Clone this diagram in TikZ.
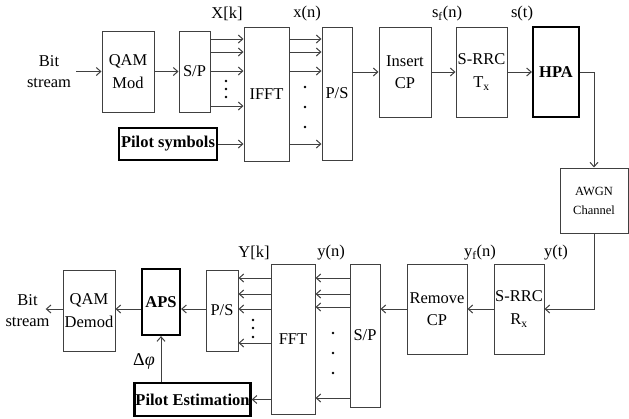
\documentclass[tikz,border=0pt]{standalone}
\usepackage{fontspec}
\setmainfont{Liberation Serif}
\usetikzlibrary{arrows.meta, positioning}

\begin{document}
\begin{tikzpicture}[x=1pt, y=-1pt,
        block/.style={rectangle, draw=black!75, line width=1pt, fill=white, align=center, inner sep=1pt, font=\fontsize{16.5}{22.5}\selectfont},
        boldblock/.style={block, draw=black, line width=2.2pt, font=\fontsize{16.5}{22.5}\selectfont\bfseries},
        lbl/.style={inner sep=0pt, align=center, font=\fontsize{16.5}{21}\selectfont},
        arrow/.style={-{Straight Barb[length=4.5pt, width=8pt]}, line width=1pt, draw=black!75}
    ]
    \useasboundingbox (0,0) rectangle (629,418);

    % Transmitter
    \node[lbl] (bitin) at (49,71.5) {Bit\\stream};
    \node[block, minimum width=52pt, minimum height=81pt] (qam) at (128,71.5) {QAM\\Mod};
    \node[block, minimum width=31pt, minimum height=81pt] (sp) at (194.5,71.5) {S/P};
    \node[block, minimum width=45pt, minimum height=134pt] (ifft) at (266.5,94) {IFFT};
    \node[boldblock, minimum width=98pt, minimum height=32pt] (pilot) at (168,144) {Pilot symbols};
    \node[block, minimum width=30pt, minimum height=133pt] (ps) at (337,93.5) {P/S};
    \node[block, minimum width=52pt, minimum height=90pt] (icp) at (405,72) {Insert\\CP};
    \node[block, minimum width=51pt, minimum height=90pt] (rrctx) at (481.5,72) {S-RRC\\T\textsubscript{x}};
    \node[boldblock, minimum width=46pt, minimum height=90pt] (hpa) at (556,72) {HPA};

    % Channel
    \node[block, minimum width=68pt, minimum height=65pt, font=\fontsize{12.5}{19}\selectfont] (awgn) at (594,200.5) {AWGN\\Channel};

    % Receiver
    \node[block, minimum width=50pt, minimum height=90pt] (rrcrx) at (519,309) {S-RRC\\R\textsubscript{x}};
    \node[block, minimum width=60pt, minimum height=90pt] (rcp) at (437,309) {Remove\\CP};
    \node[block, minimum width=30pt, minimum height=143pt] (sp2) at (365,335.5) {S/P};
    \node[block, minimum width=44pt, minimum height=150pt] (fft) at (293,339) {FFT};
    \node[block, minimum width=32pt, minimum height=81pt] (ps2) at (222,310.5) {P/S};
    \node[boldblock, minimum width=38pt, minimum height=66pt] (aps) at (161,302) {APS};
    \node[block, minimum width=52pt, minimum height=81pt] (qamd) at (89,310.5) {QAM\\Demod};
    \node[boldblock, minimum width=113pt, minimum height=33pt] (pest) at (192.5,399.5) {Pilot Estimation};
    \node[lbl] (bitout) at (27.5,311) {Bit\\stream};

    % Signal labels
    \node[lbl] (lXk) at (227,14) {X[k]};
    \node[lbl] (lxn) at (307,14) {x(n)};
    \node[lbl] (lsfn) at (447,14) {s\textsubscript{f}(n)};
    \node[lbl] (lst) at (522,14) {s(t)};
    \node[lbl] (lYk) at (254,253) {Y[k]};
    \node[lbl] (lyn) at (331,253) {y(n)};
    \node[lbl] (lyfn) at (480,253) {y\textsubscript{f}(n)};
    \node[lbl] (lyt) at (556,253) {y(t)};
    \node[lbl, font=\fontsize{18}{21}\selectfont] (ldphi) at (144,361) {Δ\textit{φ}};

    % Dots between parallel lines
    \foreach \xx/\ya/\yb/\yc in {226/81/89/97, 305/87/107/127, 253/320/328/337, 333/333/353/373}
        \foreach \yy in {\ya,\yb,\yc}
            \fill (\xx,\yy) circle (1.3pt);

    % Arrows, transmitter
    \draw[arrow] ([xshift=5pt]bitin.east) -- (qam.west);
    \draw[arrow] (qam.east) -- (sp.west);
    \foreach \yy in {39,52,71,106}
        \draw[arrow] (sp.east |- 0,\yy) -- (ifft.west |- 0,\yy);
    \draw[arrow] (pilot.east) -- (ifft.west |- pilot.east);
    \foreach \yy in {39,52,71,144}
        \draw[arrow] (ifft.east |- 0,\yy) -- (ps.west |- 0,\yy);
    \draw[arrow] (ps.east |- icp.west) -- (icp.west);
    \draw[arrow] (icp.east) -- (rrctx.west);
    \draw[arrow] (rrctx.east) -- (hpa.west);
    \draw[arrow] (hpa.east) -| (awgn.north);

    % Arrows, receiver
    \draw[arrow] (awgn.south) |- (rrcrx.east);
    \draw[arrow] (rrcrx.west) -- (rcp.east);
    \draw[arrow] (rcp.west) -- (sp2.east |- rcp.west);
    \foreach \yy in {278,294,307,398}
        \draw[arrow] (sp2.west |- 0,\yy) -- (fft.east |- 0,\yy);
    \foreach \yy in {278,294,309,343}
        \draw[arrow] (fft.west |- 0,\yy) -- (ps2.east |- 0,\yy);
    \draw[arrow] (ps2.west |- 0,309) -- (aps.east |- 0,309);
    \draw[arrow] (aps.west |- 0,309) -- (qamd.east |- 0,309);
    \draw[arrow] (qamd.west |- 0,309) -- ([xshift=-4pt]bitout.east |- 0,309);
    \draw[arrow] (fft.west |- pest.east) -- (pest.east);
    \draw[arrow] (pest.north -| aps.south) -- (aps.south);
\end{tikzpicture}
\end{document}
